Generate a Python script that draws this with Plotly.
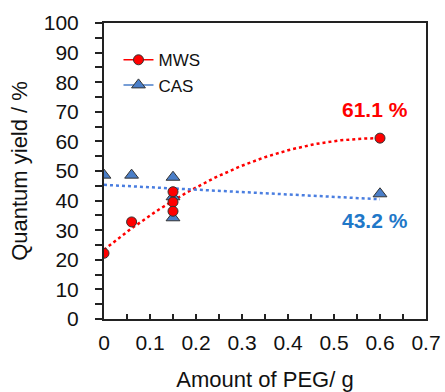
import numpy as np
import plotly.graph_objects as go

# Data
mws_x = [0.0, 0.06, 0.15, 0.15, 0.15, 0.6]
mws_y = [22.2, 32.8, 43.0, 39.5, 36.4, 61.1]
cas_x = [0.0, 0.06, 0.15, 0.15, 0.15, 0.6]
cas_y = [48.6, 48.6, 47.9, 41.3, 34.2, 42.3]
label_mws = "61.1 %"
label_cas = "43.2 %"

RED = "#FF0000"
BLUE_M = "#4A7EC8"
BLUE_T = "#1F78C8"
FONT = "Liberation Sans, Arial, sans-serif"

# trend lines (fits of the data, like Excel trendlines)
xs = np.linspace(0, max(mws_x), 100)
p2 = np.polyfit(mws_x, mws_y, 2)
p1 = np.polyfit(cas_x, cas_y, 1)

fig = go.Figure()
fig.add_trace(go.Scatter(x=xs, y=np.polyval(p2, xs), mode="lines",
                         line=dict(color=RED, width=2.5, dash="dot"), showlegend=False, hoverinfo="skip"))
fig.add_trace(go.Scatter(x=xs, y=np.polyval(p1, xs), mode="lines",
                         line=dict(color="#4A7EE0", width=2.5, dash="dot"), showlegend=False, hoverinfo="skip"))
fig.add_trace(go.Scatter(x=cas_x, y=cas_y, mode="markers", showlegend=False,
                         marker=dict(symbol="triangle-up", size=12, color=BLUE_M,
                                     line=dict(color="#333333", width=1))))
fig.add_trace(go.Scatter(x=mws_x, y=mws_y, mode="markers", showlegend=False,
                         marker=dict(symbol="circle", size=10, color=RED,
                                     line=dict(color="#333333", width=1))))
# legend entries
fig.add_trace(go.Scatter(x=[None], y=[None], mode="lines+markers", name="MWS",
                         line=dict(color=RED, width=1.5),
                         marker=dict(symbol="circle", size=10, color=RED, line=dict(color="#333333", width=1))))
fig.add_trace(go.Scatter(x=[None], y=[None], mode="lines+markers", name="CAS",
                         line=dict(color=BLUE_M, width=1.5),
                         marker=dict(symbol="triangle-up", size=12, color=BLUE_M, line=dict(color="#333333", width=1))))

fig.add_annotation(x=mws_x[-1], y=mws_y[-1], text=f"<b>{label_mws}</b>", showarrow=False,
                   xshift=-5, yshift=29, font=dict(color=RED, size=21, family=FONT))
fig.add_annotation(x=cas_x[-1], y=cas_y[-1], text=f"<b>{label_cas}</b>", showarrow=False,
                   xshift=-5, yshift=-27, font=dict(color=BLUE_T, size=21, family=FONT))

fig.update_layout(
    width=445, height=392,
    margin=dict(l=104, r=19, t=23, b=73),
    paper_bgcolor="white", plot_bgcolor="white",
    font=dict(family=FONT, color="#111111", size=21),
    legend=dict(x=0.045, y=0.935, xanchor="left", yanchor="top", bgcolor="rgba(0,0,0,0)",
                font=dict(size=17), itemwidth=30, tracegroupgap=0),
    showlegend=True,
)
fig.update_xaxes(range=[0, 0.7], dtick=0.1, tick0=0, ticks="inside", ticklen=5, tickwidth=1.5,
                 tickcolor="#222222", showline=True, linecolor="#222222", linewidth=2, mirror=True,
                 showgrid=False, zeroline=False, ticklabelstandoff=4, automargin=False,
                 minor=dict(dtick=0.05, ticks="inside", ticklen=5, tickwidth=1.5, tickcolor="#222222"),
                 title=dict(text="Amount of PEG/ g", font=dict(size=22), standoff=20))
fig.update_yaxes(range=[0, 100], dtick=10, tick0=0, ticks="outside", ticklen=7, tickwidth=1.5,
                 tickcolor="#222222", showline=True, linecolor="#222222", linewidth=2, mirror=True,
                 showgrid=False, zeroline=False, ticklabelstandoff=12, automargin=False,
                 minor=dict(dtick=5, ticks="outside", ticklen=7, tickwidth=1.5, tickcolor="#222222"),
                 title=dict(text="Quantum yield / %", font=dict(size=22), standoff=10))

fig.write_html("out.html")
